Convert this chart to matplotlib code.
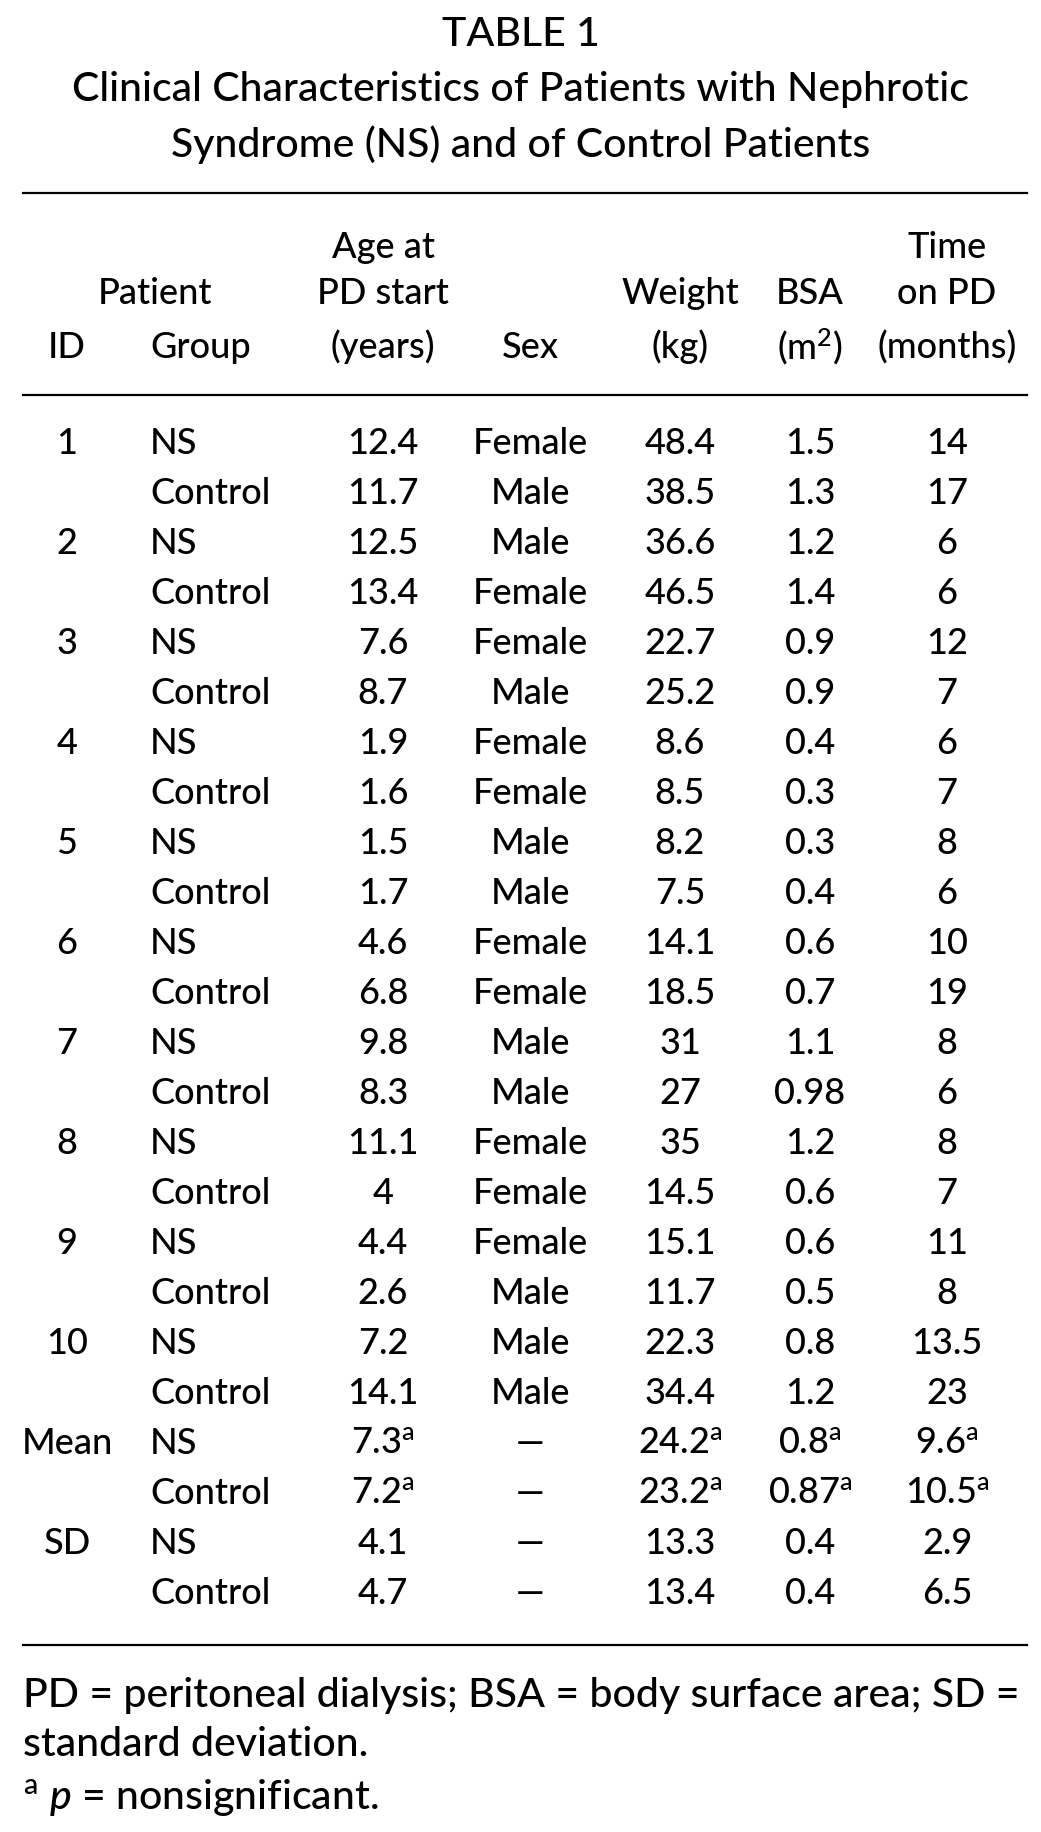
import matplotlib.pyplot as plt

plt.rcParams['font.family'] = ['Lato', 'DejaVu Sans']
plt.rcParams['font.weight'] = 500
plt.rcParams['mathtext.fontset'] = 'custom'
plt.rcParams['mathtext.rm'] = 'Lato'
plt.rcParams['mathtext.it'] = 'Lato:italic'

title_lines = ["TABLE 1",
               "Clinical Characteristics of Patients with Nephrotic",
               "Syndrome (NS) and of Control Patients"]

ids = ["1", "", "2", "", "3", "", "4", "", "5", "", "6", "", "7", "", "8", "", "9", "", "10", "",
       "Mean", "", "SD", ""]
groups = ["NS", "Control"] * 12
age = ["12.4", "11.7", "12.5", "13.4", "7.6", "8.7", "1.9", "1.6", "1.5", "1.7",
       "4.6", "6.8", "9.8", "8.3", "11.1", "4", "4.4", "2.6", "7.2", "14.1",
       "7.3a", "7.2a", "4.1", "4.7"]
sex = ["Female", "Male", "Male", "Female", "Female", "Male", "Female", "Female", "Male", "Male",
       "Female", "Female", "Male", "Male", "Female", "Female", "Female", "Male", "Male", "Male",
       "—", "—", "—", "—"]
weight = ["48.4", "38.5", "36.6", "46.5", "22.7", "25.2", "8.6", "8.5", "8.2", "7.5",
          "14.1", "18.5", "31", "27", "35", "14.5", "15.1", "11.7", "22.3", "34.4",
          "24.2a", "23.2a", "13.3", "13.4"]
bsa = ["1.5", "1.3", "1.2", "1.4", "0.9", "0.9", "0.4", "0.3", "0.3", "0.4",
       "0.6", "0.7", "1.1", "0.98", "1.2", "0.6", "0.6", "0.5", "0.8", "1.2",
       "0.8a", "0.87a", "0.4", "0.4"]
time_pd = ["14", "17", "6", "6", "12", "7", "6", "7", "8", "6",
           "10", "19", "8", "6", "8", "7", "11", "8", "13.5", "23",
           "9.6a", "10.5a", "2.9", "6.5"]

footnotes = ["PD = peritoneal dialysis; BSA = body surface area; SD =",
             "standard deviation.",
             r"$^{\rm a}$ $p$ = nonsignificant."]

W, H = 1041, 1832
fig = plt.figure(figsize=(W / 100, H / 100), dpi=100)
ax = fig.add_axes([0, 0, 1, 1])
ax.set_xlim(0, W)
ax.set_ylim(H, 0)
ax.axis('off')


def cell(s):
    # trailing "a" marks a footnote superscript
    if s.endswith("a") and s[0].isdigit():
        return s[:-1] + r"$^{\rm a}$"
    return s


fs = 26
for i, line in enumerate(title_lines):
    ax.text(W / 2, 35 + 55 * i, line, ha='center', va='center', fontsize=29.5)

ax.plot([23, 1027], [193, 193], color='black', lw=1.6)
ax.plot([23, 1027], [395, 395], color='black', lw=1.6)
ax.plot([23, 1027], [1645, 1645], color='black', lw=1.6)

# column headers
ax.text(155, 293, "Patient", ha='center', va='center', fontsize=fs)
ax.text(67, 347, "ID", ha='center', va='center', fontsize=fs)
ax.text(150, 347, "Group", ha='left', va='center', fontsize=fs)
ax.text(383, 247, "Age at", ha='center', va='center', fontsize=fs)
ax.text(383, 293, "PD start", ha='center', va='center', fontsize=fs)
ax.text(383, 347, "(years)", ha='center', va='center', fontsize=fs)
ax.text(530, 347, "Sex", ha='center', va='center', fontsize=fs)
ax.text(680, 293, "Weight", ha='center', va='center', fontsize=fs)
ax.text(680, 347, "(kg)", ha='center', va='center', fontsize=fs)
ax.text(810, 293, "BSA", ha='center', va='center', fontsize=fs)
ax.text(810, 347, r"(m$^{2}$)", ha='center', va='center', fontsize=fs)
ax.text(947, 247, "Time", ha='center', va='center', fontsize=fs)
ax.text(947, 293, "on PD", ha='center', va='center', fontsize=fs)
ax.text(947, 347, "(months)", ha='center', va='center', fontsize=fs)

for i in range(len(groups)):
    y = 443 + 50 * i
    ax.text(67, y, ids[i], ha='center', va='center', fontsize=fs)
    ax.text(150, y, groups[i], ha='left', va='center', fontsize=fs)
    ax.text(383, y, cell(age[i]), ha='center', va='center', fontsize=fs)
    ax.text(530, y, sex[i], ha='center', va='center', fontsize=fs)
    ax.text(680, y, cell(weight[i]), ha='center', va='center', fontsize=fs)
    ax.text(810, y, cell(bsa[i]), ha='center', va='center', fontsize=fs)
    ax.text(947, y, cell(time_pd[i]), ha='center', va='center', fontsize=fs)

for i, y in enumerate([1695, 1745, 1798]):
    ax.text(23, y, footnotes[i], ha='left', va='center', fontsize=29.5)

fig.savefig("out.png", dpi=100, facecolor='white')
